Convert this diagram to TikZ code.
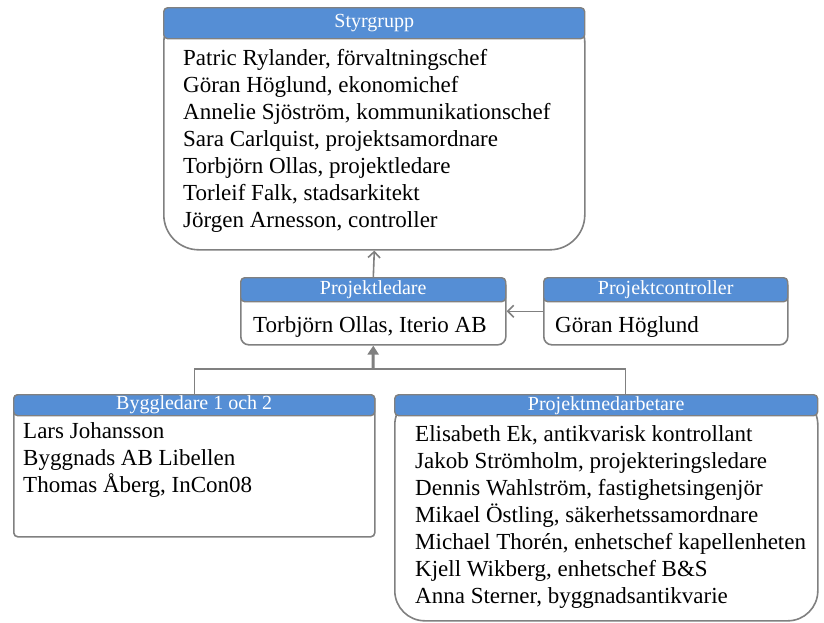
\documentclass[tikz,border=0pt]{standalone}
\usepackage{fontspec}
\setmainfont{Liberation Serif}
\usetikzlibrary{arrows.meta,positioning}
\definecolor{hdrblue}{RGB}{85,142,213}
\definecolor{framegray}{RGB}{128,128,128}

\begin{document}
\begin{tikzpicture}[x=1pt, y=1pt,
    box/.style={draw=framegray, line width=1.6pt, fill=white, anchor=north west, inner sep=0pt},
    head/.style={draw=framegray, line width=1.4pt, fill=hdrblue, rounded corners=4pt, anchor=north west,
      inner sep=0pt, text=white, font=\fontsize{20}{24}\selectfont},
    names/.style={inner sep=0pt, align=left, font=\fontsize{23}{27}\selectfont},
    link/.style={draw=framegray, line width=1.6pt}]
    \useasboundingbox (0,0) rectangle (824,-622);
    % Group bodies
    \node[box, rounded corners=35pt, minimum width=421pt, minimum height=242pt] (styr) at (163,-7) {};
    \node[box, rounded corners=8pt, minimum width=265pt, minimum height=67pt] (pl) at (240,-277) {};
    \node[box, rounded corners=8pt, minimum width=244pt, minimum height=67pt] (pc) at (543,-277) {};
    \node[box, rounded corners=4pt, minimum width=361pt, minimum height=142pt] (bl) at (13,-394) {};
    \node[box, rounded corners=30pt, minimum width=423pt, minimum height=226pt] (pm) at (394,-394) {};
    % Headers
    \node[head, minimum width=421pt, minimum height=31pt] (styrhead) at (163,-7) {Styrgrupp};
    \node[head, minimum width=265pt, minimum height=24pt] (plhead) at (240,-277) {Projektledare};
    \node[head, minimum width=244pt, minimum height=24pt] (pchead) at (543,-277) {Projektcontroller};
    \node[head, minimum width=361pt, minimum height=21pt] (blhead) at (13,-394) {Byggledare 1 och 2};
    \node[head, minimum width=423pt, minimum height=21pt] (pmhead) at (394,-394) {Projektmedarbetare};
    % Names
    \node[names, below=10pt of styrhead.south west, anchor=north west, xshift=20pt] (styrnames)
      {Patric Rylander, förvaltningschef\\Göran Höglund, ekonomichef\\Annelie Sjöström, kommunikationschef\\
       Sara Carlquist, projektsamordnare\\Torbjörn Ollas, projektledare\\Torleif Falk, stadsarkitekt\\
       Jörgen Arnesson, controller};
    \node[names, below=14pt of plhead.south west, anchor=north west, xshift=13pt] (plnames)
      {Torbjörn Ollas, Iterio AB};
    \node[names, below=14pt of pchead.south west, anchor=north west, xshift=12pt] (pcnames)
      {Göran Höglund};
    \node[names, below=6pt of blhead.south west, anchor=north west, xshift=10pt] (blnames)
      {Lars Johansson\\Byggnads AB Libellen\\Thomas Åberg, InCon08};
    \node[names, below=9pt of pmhead.south west, anchor=north west, xshift=21pt] (pmnames)
      {Elisabeth Ek, antikvarisk kontrollant\\Jakob Strömholm, projekteringsledare\\
       Dennis Wahlström, fastighetsingenjör\\Mikael Östling, säkerhetssamordnare\\
       Michael Thorén, enhetschef kapellenheten\\Kjell Wikberg, enhetschef B\&S\\
       Anna Sterner, byggnadsantikvarie};
    % Connectors
    \draw[link, -{Straight Barb[length=6pt, width=12pt]}] (pl.north) -- (styr.south);
    \draw[link, -{Straight Barb[length=6pt, width=12pt]}] (pc.west) -- (pl.east);
    \coordinate (join) at (373,-369);
    \draw[link] (bl.north) |- (join) -| ([xshift=19pt]pm.north);
    \draw[framegray, line width=3pt, -{Triangle[length=9pt, width=11pt]}] (join) -- (pl.south);
\end{tikzpicture}
\end{document}
